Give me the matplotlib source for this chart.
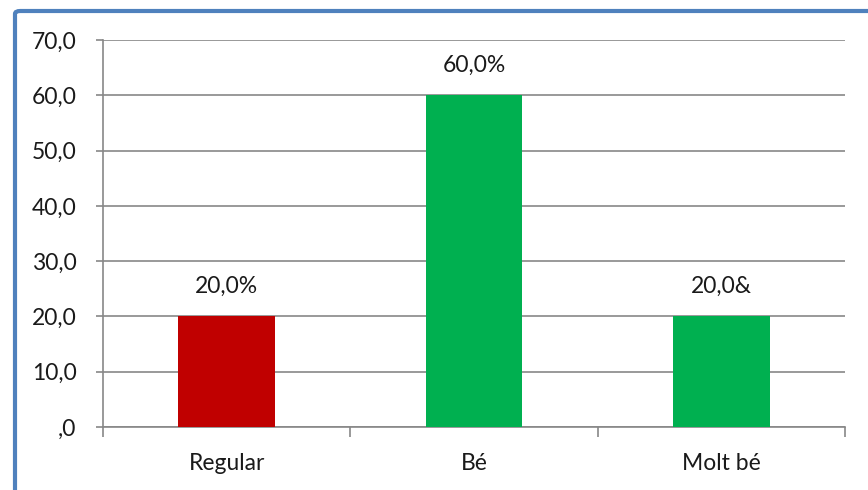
import matplotlib.pyplot as plt
from matplotlib.patches import FancyBboxPatch

categories = ['Regular', 'Bé', 'Molt bé']
values = [20.0, 60.0, 20.0]
bar_labels = ['20,0%', '60,0%', '20,0&']
bar_colors = ['#C00000', '#00B050', '#00B050']
y_ticks = [0, 10, 20, 30, 40, 50, 60, 70]
y_tick_labels = [',0', '10,0', '20,0', '30,0', '40,0', '50,0', '60,0', '70,0']

plt.rcParams['font.family'] = ['Lato', 'DejaVu Sans']
grid_color = '#878787'
text_color = '#1a1a1a'
fs = 16.5

fig = plt.figure(figsize=(8.68, 4.90), dpi=100)
ax = fig.add_axes([103 / 868, 1 - 427 / 490, (845 - 103) / 868, (427 - 40) / 490])

x = list(range(len(categories)))
bars = ax.bar(x, values, width=0.39, color=bar_colors, zorder=3)

for b, lab in zip(bars, bar_labels):
    ax.annotate(lab, (b.get_x() + b.get_width() / 2, b.get_height()),
                xytext=(0, 14), textcoords='offset points',
                ha='center', va='bottom', fontsize=fs, color=text_color)

ax.set_xlim(-0.5, len(categories) - 0.5)
ax.set_ylim(0, 70)
ax.set_yticks(y_ticks)
ax.set_yticklabels(y_tick_labels)
ax.set_xticks(x)
ax.set_xticklabels(categories)
ax.set_xticks([i - 0.5 for i in range(len(categories) + 1)], minor=True)

ax.tick_params(axis='y', length=5, width=1.2, color=grid_color, pad=14,
               labelsize=fs, labelcolor=text_color)
ax.tick_params(axis='x', which='major', length=0, pad=19,
               labelsize=fs, labelcolor=text_color)
ax.tick_params(axis='x', which='minor', length=7, width=1.2, color=grid_color)

ax.grid(axis='y', color=grid_color, linewidth=1.2, zorder=0)
for side in ['top', 'right']:
    ax.spines[side].set_visible(False)
for side in ['left', 'bottom']:
    ax.spines[side].set_color(grid_color)
    ax.spines[side].set_linewidth(1.2)

# blue frame of the cropped chart area
frame = FancyBboxPatch((15 / 868, -0.1), 1.2, 1 - 11 / 490 + 0.1,
                       boxstyle='round,pad=0,rounding_size=0.006',
                       transform=fig.transFigure, fill=False,
                       edgecolor='#4F81BD', linewidth=3, clip_on=False)
fig.add_artist(frame)

fig.savefig('out.png', dpi=100)
